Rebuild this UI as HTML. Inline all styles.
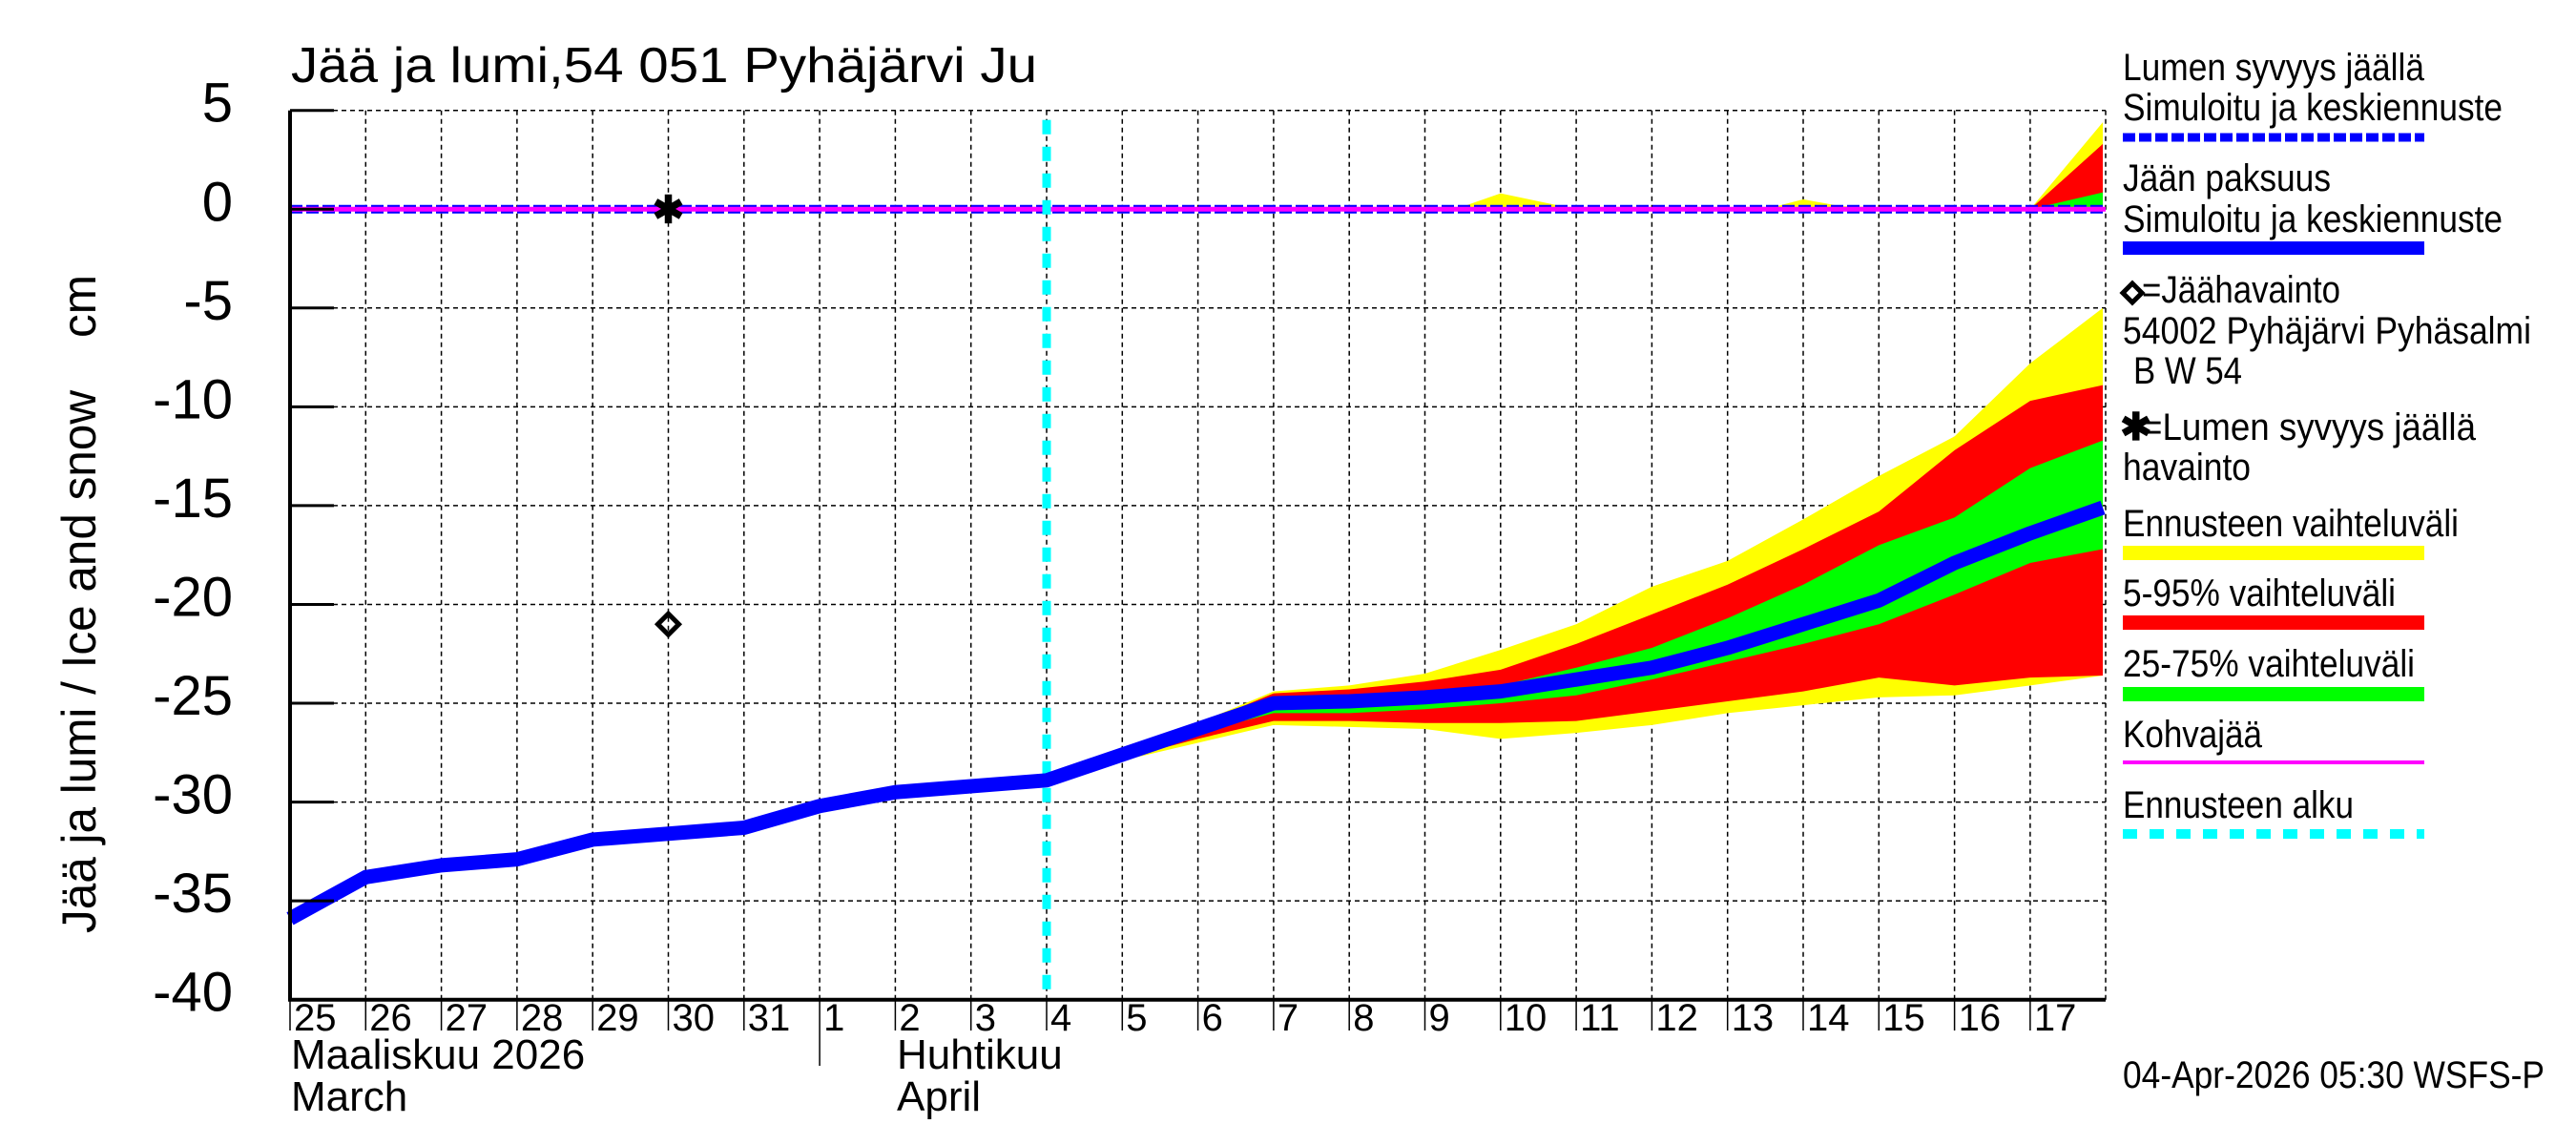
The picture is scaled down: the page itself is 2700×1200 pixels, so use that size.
<!DOCTYPE html>
<html><head><meta charset="utf-8"><style>
html,body{margin:0;padding:0;background:#fff;}
svg{display:block;font-family:"Liberation Sans",sans-serif;}
</style></head><body>
<svg id="chart" width="2700" height="1200" viewBox="0 0 2700 1200" xmlns="http://www.w3.org/2000/svg">
<g id="grid"></g>
<g id="bands"></g>
<g id="lines"></g>
<g id="axes"></g>
<text x="305" y="86" font-size="52" textLength="782" lengthAdjust="spacingAndGlyphs">Jää ja lumi,54 051 Pyhäjärvi Ju</text>
<text transform="translate(100,633) rotate(-90)" text-anchor="middle" font-size="50" textLength="690" lengthAdjust="spacingAndGlyphs">Jää ja lumi / Ice and snow&#160;&#160;&#160;&#160;cm</text>
<text x="305" y="1120" font-size="44">Maaliskuu 2026</text>
<text x="305" y="1164" font-size="44">March</text>
<text x="940" y="1120" font-size="44">Huhtikuu</text>
<text x="940" y="1164" font-size="44">April</text>
<g id="legend" font-size="40">
<text x="2225" y="84" textLength="316" lengthAdjust="spacingAndGlyphs">Lumen syvyys jäällä</text>
<text x="2225" y="126" textLength="398" lengthAdjust="spacingAndGlyphs">Simuloitu ja keskiennuste</text>
<line x1="2225" y1="144" x2="2541" y2="144" stroke="#0000ff" stroke-width="9" stroke-dasharray="13,4"/>
<text x="2225" y="200" textLength="218" lengthAdjust="spacingAndGlyphs">Jään paksuus</text>
<text x="2225" y="243" textLength="398" lengthAdjust="spacingAndGlyphs">Simuloitu ja keskiennuste</text>
<line x1="2225" y1="260" x2="2541" y2="260" stroke="#0000ff" stroke-width="14"/>
<path d="M2225,307 L2235,297 L2245,307 L2235,317 Z" fill="none" stroke="#000" stroke-width="5"/>
<text x="2245" y="317" textLength="208" lengthAdjust="spacingAndGlyphs">=Jäähavainto</text>
<text x="2225" y="360" textLength="428" lengthAdjust="spacingAndGlyphs">54002 Pyhäjärvi Pyhäsalmi</text>
<text x="2236" y="402" textLength="114" lengthAdjust="spacingAndGlyphs">B W 54</text>
<text x="2222" y="461" font-size="40" font-weight="bold">✱</text>
<text x="2245" y="461" textLength="350" lengthAdjust="spacingAndGlyphs">=Lumen syvyys jäällä</text>
<text x="2225" y="503" textLength="134" lengthAdjust="spacingAndGlyphs">havainto</text>
<text x="2225" y="562" textLength="352" lengthAdjust="spacingAndGlyphs">Ennusteen vaihteluväli</text>
<rect x="2225" y="572" width="316" height="15" fill="#ffff00"/>
<text x="2225" y="635" textLength="286" lengthAdjust="spacingAndGlyphs">5-95% vaihteluväli</text>
<rect x="2225" y="645" width="316" height="15" fill="#ff0000"/>
<text x="2225" y="709" textLength="306" lengthAdjust="spacingAndGlyphs">25-75% vaihteluväli</text>
<rect x="2225" y="720" width="316" height="15" fill="#00ff00"/>
<text x="2225" y="783" textLength="146" lengthAdjust="spacingAndGlyphs">Kohvajää</text>
<line x1="2225" y1="799" x2="2541" y2="799" stroke="#ff00ff" stroke-width="4"/>
<text x="2225" y="857" textLength="242" lengthAdjust="spacingAndGlyphs">Ennusteen alku</text>
<line x1="2225" y1="874" x2="2541" y2="874" stroke="#00ffff" stroke-width="10" stroke-dasharray="15,13"/>
</g>
<text x="2225" y="1140" font-size="40" textLength="442" lengthAdjust="spacingAndGlyphs">04-Apr-2026 05:30 WSFS-P</text>
</svg>
<script>
// day index 0 = 25 March
const dayLabels = ["25","26","27","28","29","30","31","1","2","3","4","5","6","7","8","9","10","11","12","13","14","15","16","17"];
const yTicks = [5,0,-5,-10,-15,-20,-25,-30,-35,-40];
const iceDays = [0,1,2,3,4,5,6,7,8,9,10,11,12,13,14,15,16,17,18,19,20,21,22,23,23.96];
const iceVals = [-35.9,-33.8,-33.2,-32.9,-31.9,-31.6,-31.3,-30.2,-29.5,-29.2,-28.9,-27.6,-26.3,-25.0,-24.9,-24.7,-24.4,-23.8,-23.2,-22.2,-21.0,-19.8,-17.9,-16.4,-15.1];
const bandDays = [10,11,12,13,14,15,16,17,18,19,20,21,22,23,23.96];
const yelHi = [-28.9,-27.3,-26.0,-24.4,-24.1,-23.5,-22.3,-21.0,-19.1,-17.8,-15.7,-13.5,-11.5,-7.8,-5.0];
const redHi = [-28.9,-27.4,-26.1,-24.5,-24.3,-23.9,-23.3,-22.0,-20.5,-19.0,-17.2,-15.3,-12.2,-9.7,-8.9];
const grnHi = [-28.9,-27.5,-26.2,-24.9,-24.85,-24.6,-24.1,-23.2,-22.2,-20.7,-19.0,-17.0,-15.6,-13.1,-11.7];
const grnLo = [-28.9,-27.7,-26.5,-25.5,-25.5,-25.3,-25.0,-24.6,-23.8,-22.9,-22.0,-21.0,-19.5,-17.9,-17.2];
const redLo = [-28.9,-27.8,-26.8,-25.9,-25.9,-26.0,-26.0,-25.9,-25.4,-24.9,-24.4,-23.7,-24.1,-23.7,-23.6];
const yelLo = [-28.9,-27.9,-27.0,-26.1,-26.2,-26.3,-26.8,-26.5,-26.1,-25.5,-25.1,-24.7,-24.6,-24.1,-23.6];
const snowDays = [10,15,15.4,16,17,19,19.5,20,20.5,21,22,23,23.96];
const snowYel = [0,0,0,0.8,0,0,0,0.5,0.15,0.1,0.1,0,4.4];
const snowRed = [0,0,0,0,0,0,0,0,0,0,0,0,3.3];
const snowGrn = [0,0,0,0,0,0,0,0,0,0,0,0,0.85];
const obsDay = [5];
const obsIce = [-21];
const obsSnow = [0];
const forecastDay = 10;

const NS = "http://www.w3.org/2000/svg";
const X0 = 304, X1 = 2207, DX = 79.3, YT = 115.7, YB = 1047.7;
function xs(d){ return X0 + d*DX; }
function ys(v){ return YT + (5 - v)*(YB-YT)/45; }
function mk(tag, attrs, parent){ const e=document.createElementNS(NS,tag); for(const k in attrs) e.setAttribute(k,attrs[k]); parent.appendChild(e); return e; }
const grid=document.getElementById('grid'), bands=document.getElementById('bands'), lines=document.getElementById('lines'), axes=document.getElementById('axes');

yTicks.forEach(v=>{
  const g=mk('line',{x1:X0,x2:X1,y1:ys(v),y2:ys(v),stroke:'#000','stroke-width':1.5,'stroke-dasharray':'5,4'},grid);
  
  
  const t=mk('line',{x1:X0,x2:X0+46,y1:ys(v),y2:ys(v),stroke:'#000','stroke-width':3},axes);
  
  
  const l=mk('text',{x:244,y:ys(v)+12,'text-anchor':'end','font-size':58},axes);
  l.textContent=String(v);
  
  
});
dayLabels.forEach((lab,i)=>{
  const x=xs(i);
  if(i>0){
    const g=mk('line',{x1:x,x2:x,y1:YT,y2:YB,stroke:'#000','stroke-width':1.5,'stroke-dasharray':'5,4'},grid);
    
    
  }
  const t=mk('line',{x1:x,x2:x,y1:YB,y2:(i===7?1117:1080),stroke:'#000','stroke-width':1.5},axes);
  
  
  const l=mk('text',{x:x+4,y:1080,'font-size':40},axes);
  l.textContent=lab;
  
  
});
const rg=mk('line',{x1:X1,x2:X1,y1:YT,y2:YB,stroke:'#000','stroke-width':1.5,'stroke-dasharray':'5,4'},grid);



function band(days, hi, lo, color, name){
  let d='M'+days.map((dd,i)=>xs(dd)+','+ys(hi[i])).join(' L');
  for(let i=days.length-1;i>=0;i--) d+=' L'+xs(days[i])+','+ys(lo[i]);
  const p=mk('path',{d:d+' Z',fill:color},bands);
  
  
}
band(bandDays,yelHi,yelLo,'#ffff00','band-range');
band(bandDays,redHi,redLo,'#ff0000','band-5-95');
band(bandDays,grnHi,grnLo,'#00ff00','band-25-75');
const zeros=snowDays.map(()=>0);
band(snowDays,snowYel,zeros,'#ffff00','snow-band-range');
band(snowDays,snowRed,zeros,'#ff0000','snow-band-5-95');
band(snowDays,snowGrn,zeros,'#00ff00','snow-band-25-75');

const sd=mk('line',{x1:X0,x2:X1,y1:ys(0),y2:ys(0),stroke:'#0000ff','stroke-width':9,'stroke-dasharray':'13,4'},lines);


const sl=mk('line',{x1:X0,x2:X1,y1:ys(0),y2:ys(0),stroke:'#ff00ff','stroke-width':5},lines);


const fc=mk('line',{x1:xs(forecastDay),x2:xs(forecastDay),y1:YT+10,y2:YB,stroke:'#00ffff','stroke-width':9,'stroke-dasharray':'15,13'},lines);


const ice=mk('polyline',{points:iceDays.map((d,i)=>xs(d)+','+ys(iceVals[i])).join(' '),fill:'none',stroke:'#0000ff','stroke-width':15,'stroke-linejoin':'round'},lines);



obsDay.forEach((d,i)=>{
  const x=xs(d), y=ys(obsIce[i]);
  const p=mk('path',{d:`M${x-11},${y} L${x},${y-11} L${x+11},${y} L${x},${y+11} Z`,fill:'none',stroke:'#000','stroke-width':5},lines);
  
  
  const a=mk('text',{x:x,y:ys(obsSnow[i])+14,'text-anchor':'middle','font-size':40,'font-weight':'bold'},lines);
  a.textContent='✱';
  
  
});

const ax=mk('path',{d:`M${X0},${YT} L${X0},${YB} L${X1},${YB}`,fill:'none',stroke:'#000','stroke-width':4},axes);


</script>
</body></html>
